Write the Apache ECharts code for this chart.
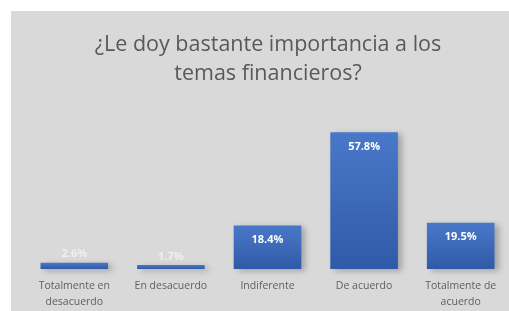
<!DOCTYPE html>
<html>
<head>
<meta charset="utf-8">
<script src="https://cdn.jsdelivr.net/npm/echarts@6/dist/echarts.min.js"></script>
<style>
  html, body { margin: 0; padding: 0; background: #fff; }
  #box { width: 509px; height: 311px; }
</style>
</head>
<body>
<div id="box"></div>
<script>
let categories = ["Totalmente en\ndesacuerdo", "En desacuerdo", "Indiferente", "De acuerdo", "Totalmente de\nacuerdo"];
let values = [2.6, 1.7, 18.4, 57.8, 19.5];

let chart = echarts.init(document.getElementById("box"), null, { renderer: "canvas" });

let seriesData = values.map(v => {
  let small = v < 5;
  return {
    value: v,
    label: {
      position: small ? "top" : "insideTop",
      distance: small ? 3 : 9,
      color: small ? "#f0f0f0" : "#ffffff"
    }
  };
});

let option = {
  backgroundColor: "#ffffff",
  graphic: [{
    type: "rect",
    left: 11, top: 11,
    shape: { width: 498, height: 300 },
    style: { fill: "#d9d9d9" },
    z: -10
  }],
  title: {
    text: "¿Le doy bastante importancia a los\ntemas financieros?",
    left: 263, top: 25, textAlign: "center",
    textStyle: {
      fontFamily: "Open Sans",
      fontSize: 21.5, fontWeight: "normal",
      color: "#595959", lineHeight: 29
    }
  },
  grid: { left: 26, right: 0, top: 127, bottom: 42 },
  xAxis: {
    type: "category",
    data: categories,
    axisLine: { show: false },
    axisTick: { show: false },
    axisLabel: {
      color: "#5f5f5f", fontSize: 10.5, fontFamily: "Open Sans",
      lineHeight: 16, margin: 9, interval: 0
    }
  },
  yAxis: {
    type: "value", min: 0, max: 60,
    show: false, splitLine: { show: false }
  },
  series: [{
    type: "bar",
    data: seriesData,
    barWidth: "70%",
    itemStyle: {
      color: new echarts.graphic.LinearGradient(0, 0, 0, 1, [
        { offset: 0, color: "#4a78c8" },
        { offset: 1, color: "#2f5aa8" }
      ]),
      shadowColor: "rgba(0,0,0,0.25)",
      shadowBlur: 6,
      shadowOffsetX: 4,
      shadowOffsetY: 2
    },
    label: {
      show: true,
      formatter: p => p.value.toFixed(1) + "%",
      fontSize: 11, fontWeight: "bold", fontFamily: "Open Sans"
    }
  }]
};

chart.setOption(option);
</script>
</body>
</html>
